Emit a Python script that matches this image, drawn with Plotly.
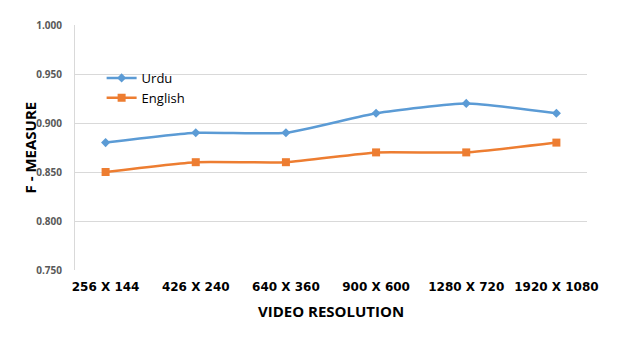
import plotly.graph_objects as go

resolutions = ["256 X 144", "426 X 240", "640 X 360", "900 X 600", "1280 X 720", "1920 X 1080"]
urdu = [0.88, 0.89, 0.89, 0.91, 0.92, 0.91]
english = [0.85, 0.86, 0.86, 0.87, 0.87, 0.88]
y_ticks = [0.75, 0.80, 0.85, 0.90, 0.95, 1.00]

fig = go.Figure()
fig.add_trace(go.Scatter(
    x=resolutions, y=urdu, name="Urdu", mode="lines+markers",
    line=dict(color="#5B9BD5", width=2.5, shape="spline", smoothing=0.5),
    marker=dict(symbol="diamond", size=7, color="#5B9BD5"),
))
fig.add_trace(go.Scatter(
    x=resolutions, y=english, name="English", mode="lines+markers",
    line=dict(color="#ED7D31", width=2.5, shape="spline", smoothing=0.5),
    marker=dict(symbol="square", size=8, color="#ED7D31"),
))

# the page body adds an 8px offset, so margins are shifted to compensate
fig.update_layout(
    width=623, height=349,
    margin=dict(l=67, r=44, t=17, b=87),
    paper_bgcolor="white", plot_bgcolor="white",
    font=dict(family="Open Sans", color="#000000"),
    showlegend=True,
    legend=dict(
        x=0.052, y=0.845, xanchor="left", yanchor="top",
        bgcolor="rgba(0,0,0,0)", font=dict(size=13, color="#000000"),
        tracegroupgap=0, itemwidth=30,
    ),
    xaxis=dict(
        tickfont=dict(family="DejaVu Sans", size=12, weight="bold", color="#000000"),
        showgrid=False, showline=False, ticks="", ticklabelstandoff=8,
        automargin=False,
    ),
    yaxis=dict(
        range=[0.75, 1.0], tickvals=y_ticks, tickformat=".3f",
        tickfont=dict(size=10, weight="bold", color="#595959"),
        showgrid=True, gridcolor="#D9D9D9", gridwidth=1,
        showline=True, linecolor="#D9D9D9", linewidth=1,
        zeroline=False, ticks="", ticklabelstandoff=10,
        automargin=False,
    ),
    annotations=[
        dict(text="<b>VIDEO RESOLUTION</b>", xref="paper", yref="paper", x=0.5, y=-0.167,
             xanchor="center", yanchor="middle", showarrow=False, font=dict(size=15)),
        dict(text="<b>F - MEASURE</b>", xref="paper", yref="paper", x=-0.088, y=0.5,
             xanchor="center", yanchor="middle", textangle=-90, showarrow=False, font=dict(size=15)),
    ],
)

fig.write_html("out.html")
